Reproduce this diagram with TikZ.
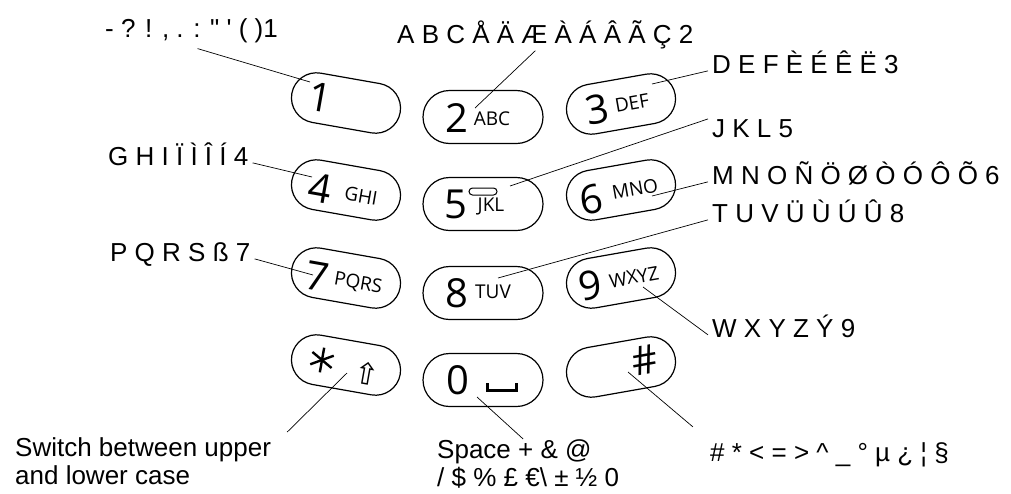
\documentclass[tikz,border=0pt]{standalone}
\usepackage{fontspec}
\usepackage{tikz}
\usetikzlibrary{shapes.misc}
\newfontfamily\lblfont{Liberation Sans}
\newfontfamily\keyfont{Open Sans}
\newfontfamily\symfont{DejaVu Sans}
\tikzstyle{keycap}=[rounded rectangle,draw,line width=1.2pt,minimum width=110pt,minimum height=50pt,inner sep=0pt]
\tikzstyle{midcap}=[keycap,minimum width=120pt,minimum height=53pt]
\tikzstyle{bar}=[rounded rectangle,draw,line width=1pt,minimum width=28pt,minimum height=7pt,inner sep=0pt]
\tikzstyle{digit}=[inner sep=0pt,font=\keyfont\fontsize{40}{40}\selectfont]
\tikzstyle{letters}=[inner sep=0pt,font=\keyfont\fontsize{19}{19}\selectfont]
\tikzstyle{chars}=[inner xsep=4pt,inner ysep=0pt,font=\lblfont\fontsize{26}{28.5}\selectfont]
\tikzstyle{edge}=[draw,line width=0.7pt,-]

\begin{document}
\begin{tikzpicture}[x=1pt,y=-1pt]
      \useasboundingbox (0,0) rectangle (1011,493);
      % keys
      \node[keycap,rotate=-10] (k1) at (346,103) {};
      \node[keycap,rotate=-10] (k4) at (346,190) {};
      \node[keycap,rotate=-10] (k7) at (346,278) {};
      \node[keycap,rotate=-10] (kstar) at (346,365) {};
      \node[midcap] (k2) at (483,117) {};
      \node[midcap] (k5) at (483,204) {};
      \node[midcap] (k8) at (483,293) {};
      \node[midcap] (k0) at (483,380) {};
      \node[keycap,rotate=10] (k3) at (621,104) {};
      \node[keycap,rotate=10] (k6) at (621,190) {};
      \node[keycap,rotate=10] (k9) at (621,278) {};
      \node[keycap,rotate=10] (khash) at (621,367) {};
      % key faces
      \node[digit,rotate=-10] (d1) at (320,97) {1};
      \node[digit,rotate=-10] (d4) at (320,188) {4};
      \node[letters,rotate=-10] (t4) at (361,196) {GHI};
      \node[digit,rotate=-10] (d7) at (317,276) {7};
      \node[letters,rotate=-10] (t7) at (358,284) {PQRS};
      \node[font=\symfont\fontsize{30}{30}\selectfont,inner sep=0pt,rotate=-10] (shiftarrow) at (367,374) {⇧};
      \begin{scope}[shift={(322,360)},rotate=-10]
        \foreach \a in {90,30,-30}
          \draw[line width=2.4pt] (\a:12.5pt) -- (\a+180:12.5pt);
      \end{scope}
      \node[digit] (d2) at (457,118) {2};
      \node[letters] (t2) at (492,119) {ABC};
      \node[digit] (d5) at (456,204) {5};
      \node[letters] (t5) at (491,206) {JKL};
      \node[bar] (bar5) at (483,191.5) {};
      \node[digit] (d8) at (457,293) {8};
      \node[letters] (t8) at (493,292) {TUV};
      \node[digit] (d0) at (458,380) {0};
      \draw[line width=3pt] (487,383) -- (487,390) -- (516.5,390) -- (516.5,383);
      \node[digit,rotate=10] (d3) at (597,109) {3};
      \node[letters,rotate=10] (t3) at (632,103) {DEF};
      \node[digit,rotate=10] (d6) at (591,199) {6};
      \node[letters,rotate=10] (t6) at (635,189) {MNO};
      \node[digit,rotate=10] (d9) at (590,285) {9};
      \node[letters,rotate=10] (t9) at (634,277) {WXYZ};
      \node[digit,rotate=10] (hash) at (645,360) {\#};
      % labels
      \node[chars,anchor=base west] (lab1) at (101,37) {- ? ! , . : " ' ( )1};
      \node[chars,anchor=base west] (lab2) at (393,43) {A B C Å Ä Æ À Á Â Ã Ç 2};
      \node[chars,anchor=base west] (lab3) at (708,73) {D E F È É Ê Ë 3};
      \node[chars,anchor=base west] (lab5) at (708,137) {J K L 5};
      \node[chars,anchor=base west] (lab4) at (104,165) {G H I Ï Ì Î Í 4};
      \node[chars,anchor=base west] (lab6) at (708,184) {M N O Ñ Ö Ø Ò Ó Ô Õ 6};
      \node[chars,anchor=base west] (lab8) at (708,222) {T U V Ü Ù Ú Û 8};
      \node[chars,anchor=base west] (lab7) at (106,261) {P Q R S ß 7};
      \node[chars,anchor=base west] (lab9) at (708,337) {W X Y Z Ý 9};
      \node[chars,anchor=north west,align=left] (labstar) at (11,437) {Switch between upper\\and lower case};
      \node[chars,anchor=north west,align=left] (lab0) at (433,439) {Space + \& @\\/ \$ \% £ €\textbackslash{} ± ½ 0};
      \node[chars,anchor=base west] (labhash) at (706,461) {\# * < = > \textasciicircum{} \_ ° µ ¿ ¦ §};
      % leader lines
      \coordinate (p1) at (310,82);
      \coordinate (p2) at (475,108);
      \coordinate (p3) at (652,84);
      \coordinate (p4) at (312,177);
      \coordinate (p5) at (510,186);
      \coordinate (p6) at (652,196);
      \coordinate (p7) at (313,275);
      \coordinate (p8) at (498,278);
      \coordinate (p9) at (643,287);
      \coordinate (pstar) at (347,373);
      \coordinate (p0) at (477,397);
      \coordinate (phash) at (628,372);
      \draw[edge] ([xshift=6pt,yshift=-6pt]lab1.south) to (p1);
      \draw[edge] ([xshift=-10pt,yshift=-2pt]lab2.south) to (p2);
      \draw[edge] (lab3.mid west) to (p3);
      \draw[edge] (lab5.north west) to (p5);
      \draw[edge] (lab4.mid east) to (p4);
      \draw[edge] (lab6.mid west) to (p6);
      \draw[edge] (lab8.mid west) to (p8);
      \draw[edge] (lab7.mid east) to (p7);
      \draw[edge] (lab9.mid west) to (p9);
      \draw[edge] (pstar) to ([xshift=12pt,yshift=5pt]labstar.north east);
      \draw[edge] (p0) to ([xshift=-5pt]lab0.north);
      \draw[edge] (phash) to ([xshift=-13pt,yshift=15pt]labhash.north west);
    \end{tikzpicture}
\end{document}
